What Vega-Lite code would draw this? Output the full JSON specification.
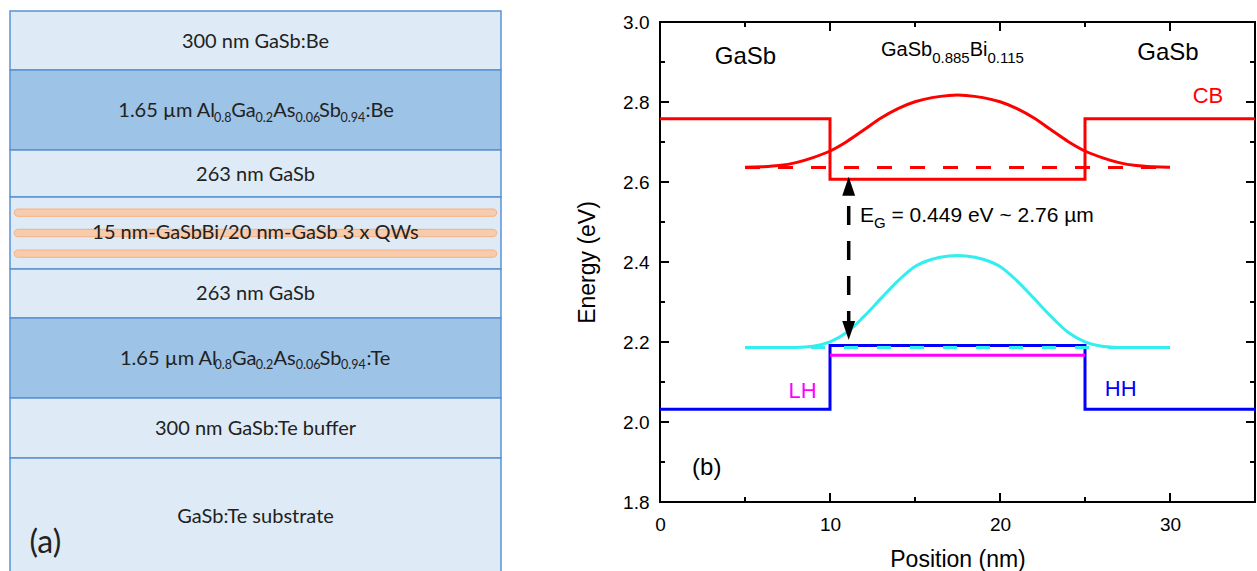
{
  "$schema": "https://vega.github.io/schema/vega-lite/v6.json",
  "background": "white",
  "padding": {"left": 9, "top": 10, "right": 0, "bottom": 0},
  "autosize": {"type": "pad"},
  "bounds": "flush",
  "spacing": 159,
  "config": {"view": {"stroke": null}, "font": "Liberation Sans"},
  "hconcat": [
    {
      "width": 491,
      "height": 549,
      "layer": [
        {
          "data": {"values": [
            {"layer": "300 nm GaSb:Be", "top": 11, "bottom": 70, "mat": "GaSb"},
            {"layer": "AlGaAsSb:Be cladding", "top": 70, "bottom": 150, "mat": "AlGaAsSb"},
            {"layer": "263 nm GaSb upper", "top": 150, "bottom": 197, "mat": "GaSb"},
            {"layer": "QWs", "top": 197, "bottom": 269, "mat": "GaSb"},
            {"layer": "263 nm GaSb lower", "top": 269, "bottom": 318, "mat": "GaSb"},
            {"layer": "AlGaAsSb:Te cladding", "top": 318, "bottom": 398, "mat": "AlGaAsSb"},
            {"layer": "buffer", "top": 398, "bottom": 458, "mat": "GaSb"},
            {"layer": "substrate", "top": 458, "bottom": 574, "mat": "GaSb"}
          ]},
          "mark": {"type": "rect", "stroke": "#5b93d2", "strokeWidth": 1.5},
          "encoding": {
            "x": {"datum": 0, "type": "quantitative", "scale": {"domain": [0, 491], "nice": false, "zero": false}, "axis": null},
            "x2": {"datum": 491},
            "y": {"field": "top", "type": "quantitative", "scale": {"domain": [22, 571], "nice": false, "zero": false, "reverse": true}, "axis": null},
            "y2": {"field": "bottom"},
            "fill": {"field": "mat", "type": "nominal", "scale": {"domain": ["GaSb", "AlGaAsSb"], "range": ["#deebf7", "#9dc3e6"]}, "legend": null}
          }
        },
        {
          "data": {"values": [
            {"well": 1, "top": 209, "bottom": 216.3},
            {"well": 2, "top": 229.3, "bottom": 236.7},
            {"well": 3, "top": 250, "bottom": 257.3}
          ]},
          "mark": {"type": "rect", "fill": "#f8cbad", "stroke": "#f4b183", "strokeWidth": 1, "cornerRadius": 3.5},
          "encoding": {
            "x": {"datum": 4.3, "type": "quantitative", "axis": null},
            "x2": {"datum": 486.7},
            "y": {"field": "top", "type": "quantitative", "axis": null},
            "y2": {"field": "bottom"}
          }
        },
        {
          "data": {"values": [
            {"t": "300 nm GaSb:Be", "x": 245.5, "y": 47.7},
            {"t": "263 nm GaSb", "x": 245.5, "y": 181},
            {"t": "15 nm-GaSbBi/20 nm-GaSb 3 x QWs", "x": 245.5, "y": 239},
            {"t": "263 nm GaSb", "x": 245.5, "y": 300},
            {"t": "300 nm GaSb:Te buffer", "x": 245.5, "y": 435},
            {"t": "GaSb:Te substrate", "x": 245.5, "y": 523.3}
          ]},
          "mark": {"type": "text", "font": "Lato", "fontSize": 20, "color": "#222222", "align": "center", "baseline": "alphabetic"},
          "encoding": {
            "x": {"field": "x", "type": "quantitative", "axis": null},
            "y": {"field": "y", "type": "quantitative", "axis": null},
            "text": {"field": "t"}
          }
        },
        {
          "data": {"values": [
            {"t": "1.65 µm Al", "x": 108.3, "y": 117.3},
            {"t": "Ga", "x": 221.2, "y": 117.3},
            {"t": "As", "x": 263.2, "y": 117.3},
            {"t": "Sb", "x": 309, "y": 117.3},
            {"t": ":Be", "x": 355.5, "y": 117.3},
            {"t": "1.65 µm Al", "x": 110, "y": 365},
            {"t": "Ga", "x": 222, "y": 365},
            {"t": "As", "x": 263.5, "y": 365},
            {"t": "Sb", "x": 309.5, "y": 365},
            {"t": ":Te", "x": 356.5, "y": 365}
          ]},
          "mark": {"type": "text", "font": "Lato", "fontSize": 20, "color": "#222222", "align": "left", "baseline": "alphabetic"},
          "encoding": {
            "x": {"field": "x", "type": "quantitative", "axis": null},
            "y": {"field": "y", "type": "quantitative", "axis": null},
            "text": {"field": "t"}
          }
        },
        {
          "data": {"values": [
            {"t": "0.8", "x": 204, "y": 121.7},
            {"t": "0.2", "x": 245.5, "y": 121.7},
            {"t": "0.06", "x": 285.5, "y": 121.7},
            {"t": "0.94", "x": 330.5, "y": 121.7},
            {"t": "0.8", "x": 204.5, "y": 369.3},
            {"t": "0.2", "x": 245.8, "y": 369.3},
            {"t": "0.06", "x": 285.8, "y": 369.3},
            {"t": "0.94", "x": 331, "y": 369.3}
          ]},
          "mark": {"type": "text", "font": "Lato", "fontSize": 12.5, "color": "#222222", "align": "left", "baseline": "alphabetic"},
          "encoding": {
            "x": {"field": "x", "type": "quantitative", "axis": null},
            "y": {"field": "y", "type": "quantitative", "axis": null},
            "text": {"field": "t"}
          }
        },
        {
          "data": {"values": [{"t": "(a)", "x": 35.3, "y": 553}]},
          "mark": {"type": "text", "font": "Lato", "fontSize": 32, "color": "#222222", "align": "center", "baseline": "alphabetic"},
          "encoding": {
            "x": {"field": "x", "type": "quantitative", "axis": null},
            "y": {"field": "y", "type": "quantitative", "axis": null},
            "text": {"field": "t"}
          }
        }
      ]
    },
    {
      "width": 595,
      "height": 480,
      "view": {"stroke": "black", "strokeWidth": 2},
      "encoding": {
        "x": {"field": "x", "type": "quantitative", "scale": {"domain": [0, 35], "nice": false, "zero": false},
          "axis": {"orient": "bottom", "values": [0, 10, 20, 30], "domain": false, "ticks": false,
            "labelFont": "Liberation Sans", "labelFontSize": 19, "labelColor": "black", "labelPadding": 13,
            "labelFlush": false, "labelOverlap": false, "grid": false,
            "title": "Position (nm)", "titleFont": "Liberation Sans", "titleFontSize": 23, "titleFontWeight": "normal", "titleColor": "black", "titlePadding": 14}},
        "y": {"field": "E", "type": "quantitative", "scale": {"domain": [1.8, 3.0], "nice": false, "zero": false},
          "axis": {"orient": "left", "values": [1.8, 2.0, 2.2, 2.4, 2.6, 2.8, 3.0], "format": ".1f", "domain": false, "ticks": false,
            "labelFont": "Liberation Sans", "labelFontSize": 19, "labelColor": "black", "labelPadding": 11,
            "labelFlush": false, "labelOverlap": false, "grid": false,
            "title": "Energy (eV)", "titleFont": "Liberation Sans", "titleFontSize": 23, "titleFontWeight": "normal", "titleColor": "black", "titlePadding": 23}}
      },
      "layer": [
        {
          "data": {"values": [
            {"x": 0, "E": 2.032}, {"x": 10, "E": 2.191}, {"x": 25, "E": 2.032}, {"x": 35, "E": 2.032}
          ]},
          "mark": {"type": "line", "interpolate": "step-after", "color": "#0000ff", "strokeWidth": 3},
          "encoding": {}
        },
        {
          "data": {"values": [
            {"x": 0, "E": 1.8, "kind": "major"}, {"x": 5, "E": 1.8, "kind": "minor"},
            {"x": 10, "E": 1.8, "kind": "major"}, {"x": 15, "E": 1.8, "kind": "minor"},
            {"x": 20, "E": 1.8, "kind": "major"}, {"x": 25, "E": 1.8, "kind": "minor"},
            {"x": 30, "E": 1.8, "kind": "major"}, {"x": 35, "E": 1.8, "kind": "minor"},
            {"x": 0, "E": 3.0, "kind": "major"}, {"x": 5, "E": 3.0, "kind": "minor"},
            {"x": 10, "E": 3.0, "kind": "major"}, {"x": 15, "E": 3.0, "kind": "minor"},
            {"x": 20, "E": 3.0, "kind": "major"}, {"x": 25, "E": 3.0, "kind": "minor"},
            {"x": 30, "E": 3.0, "kind": "major"}, {"x": 35, "E": 3.0, "kind": "minor"}
          ]},
          "mark": {"type": "tick", "orient": "vertical", "thickness": 2, "color": "black", "opacity": 1, "clip": true},
          "encoding": {
            "size": {"field": "kind", "type": "nominal", "scale": {"domain": ["major", "minor"], "range": [18, 10]}, "legend": null}
          }
        },
        {
          "data": {"values": [
            {"x": 0, "E": 1.8, "kind": "major"}, {"x": 0, "E": 1.9, "kind": "minor"}, {"x": 0, "E": 2.0, "kind": "major"},
            {"x": 0, "E": 2.1, "kind": "minor"}, {"x": 0, "E": 2.2, "kind": "major"}, {"x": 0, "E": 2.3, "kind": "minor"},
            {"x": 0, "E": 2.4, "kind": "major"}, {"x": 0, "E": 2.5, "kind": "minor"}, {"x": 0, "E": 2.6, "kind": "major"},
            {"x": 0, "E": 2.7, "kind": "minor"}, {"x": 0, "E": 2.8, "kind": "major"}, {"x": 0, "E": 2.9, "kind": "minor"},
            {"x": 0, "E": 3.0, "kind": "major"},
            {"x": 35, "E": 1.8, "kind": "major"}, {"x": 35, "E": 1.9, "kind": "minor"}, {"x": 35, "E": 2.0, "kind": "major"},
            {"x": 35, "E": 2.1, "kind": "minor"}, {"x": 35, "E": 2.2, "kind": "major"}, {"x": 35, "E": 2.3, "kind": "minor"},
            {"x": 35, "E": 2.4, "kind": "major"}, {"x": 35, "E": 2.5, "kind": "minor"}, {"x": 35, "E": 2.6, "kind": "major"},
            {"x": 35, "E": 2.7, "kind": "minor"}, {"x": 35, "E": 2.8, "kind": "major"}, {"x": 35, "E": 2.9, "kind": "minor"},
            {"x": 35, "E": 3.0, "kind": "major"}
          ]},
          "mark": {"type": "tick", "orient": "horizontal", "thickness": 2, "color": "black", "opacity": 1, "clip": true},
          "encoding": {
            "size": {"field": "kind", "type": "nominal", "scale": {"domain": ["major", "minor"], "range": [18, 10]}, "legend": null}
          }
        },
        {
          "data": {"values": [{"x": 10, "E": 2.167}, {"x": 25, "E": 2.167}]},
          "mark": {"type": "line", "color": "#ff00ff", "strokeWidth": 3},
          "encoding": {}
        },
        {
          "data": {"values": [{"x": 5, "E": 2.186}, {"x": 30, "E": 2.186}]},
          "mark": {"type": "line", "color": "#33eeee", "strokeWidth": 3, "strokeDash": [14, 19]},
          "encoding": {}
        },
        {
          "data": {"values": [
            {"x": 5, "E": 2.186}, {"x": 6, "E": 2.186}, {"x": 7, "E": 2.186}, {"x": 8, "E": 2.1865},
            {"x": 9, "E": 2.1895}, {"x": 10, "E": 2.2005}, {"x": 11, "E": 2.2245}, {"x": 12, "E": 2.264},
            {"x": 13, "E": 2.309}, {"x": 14, "E": 2.353}, {"x": 15, "E": 2.389}, {"x": 16, "E": 2.407},
            {"x": 17, "E": 2.415}, {"x": 17.5, "E": 2.416}, {"x": 18, "E": 2.415}, {"x": 19, "E": 2.407},
            {"x": 20, "E": 2.389}, {"x": 21, "E": 2.353}, {"x": 22, "E": 2.309}, {"x": 23, "E": 2.264},
            {"x": 24, "E": 2.2245}, {"x": 25, "E": 2.2005}, {"x": 26, "E": 2.1895}, {"x": 27, "E": 2.1865},
            {"x": 28, "E": 2.186}, {"x": 29, "E": 2.186}, {"x": 30, "E": 2.186}
          ]},
          "mark": {"type": "line", "color": "#33eeee", "strokeWidth": 3, "interpolate": "monotone"},
          "encoding": {}
        },
        {
          "data": {"values": [
            {"x": 0, "E": 2.758}, {"x": 10, "E": 2.607}, {"x": 25, "E": 2.758}, {"x": 35, "E": 2.758}
          ]},
          "mark": {"type": "line", "interpolate": "step-after", "color": "#ff0000", "strokeWidth": 3},
          "encoding": {}
        },
        {
          "data": {"values": [{"x": 5, "E": 2.636}, {"x": 30, "E": 2.636}]},
          "mark": {"type": "line", "color": "#ff0000", "strokeWidth": 3, "strokeDash": [15, 18]},
          "encoding": {}
        },
        {
          "data": {"values": [
            {"x": 5, "E": 2.637}, {"x": 6, "E": 2.638}, {"x": 7, "E": 2.641}, {"x": 8, "E": 2.6485},
            {"x": 9, "E": 2.661}, {"x": 10, "E": 2.6775}, {"x": 11, "E": 2.7015}, {"x": 12, "E": 2.7305},
            {"x": 13, "E": 2.760}, {"x": 14, "E": 2.7835}, {"x": 15, "E": 2.8005}, {"x": 16, "E": 2.811},
            {"x": 17, "E": 2.8165}, {"x": 17.5, "E": 2.8175}, {"x": 18, "E": 2.8165}, {"x": 19, "E": 2.811},
            {"x": 20, "E": 2.8005}, {"x": 21, "E": 2.7835}, {"x": 22, "E": 2.760}, {"x": 23, "E": 2.7305},
            {"x": 24, "E": 2.7015}, {"x": 25, "E": 2.6775}, {"x": 26, "E": 2.661}, {"x": 27, "E": 2.6485},
            {"x": 28, "E": 2.641}, {"x": 29, "E": 2.638}, {"x": 30, "E": 2.637}
          ]},
          "mark": {"type": "line", "color": "#ff0000", "strokeWidth": 3, "interpolate": "monotone"},
          "encoding": {}
        },
        {
          "data": {"values": [{"x": 11.1, "E": 2.54, "E2": 2.252}]},
          "mark": {"type": "rule", "color": "black", "strokeWidth": 3.5, "strokeDash": [19, 16]},
          "encoding": {
            "y2": {"field": "E2"}
          }
        },
        {
          "data": {"values": [{"x": 11.1, "E": 2.5895, "dir": "up"}, {"x": 11.1, "E": 2.2288, "dir": "down"}]},
          "mark": {"type": "point", "filled": true, "color": "black", "opacity": 1, "size": 361},
          "encoding": {
            "shape": {"field": "dir", "type": "nominal", "scale": {"domain": ["up", "down"], "range": ["M0,-1L0.68,1L-0.68,1Z", "M0,1L0.68,-1L-0.68,-1Z"]}, "legend": null}
          }
        },
        {
          "data": {"values": [
            {"t": "GaSb", "x": 5.03, "E": 2.895},
            {"t": "GaSb", "x": 29.88, "E": 2.905},
            {"t": "(b)", "x": 2.75, "E": 1.8675}
          ]},
          "mark": {"type": "text", "font": "Liberation Sans", "fontSize": 24, "color": "black", "align": "center", "baseline": "alphabetic"},
          "encoding": {
            "text": {"field": "t"}
          }
        },
        {
          "data": {"values": [
            {"t": "CB", "band": "CB", "x": 32.23, "E": 2.797},
            {"t": "LH", "band": "LH", "x": 8.39, "E": 2.06},
            {"t": "HH", "band": "HH", "x": 27.1, "E": 2.065}
          ]},
          "mark": {"type": "text", "font": "Liberation Sans", "fontSize": 22, "align": "center", "baseline": "alphabetic"},
          "encoding": {
            "text": {"field": "t"},
            "color": {"field": "band", "type": "nominal", "scale": {"domain": ["CB", "LH", "HH"], "range": ["#ff0000", "#ff00ff", "#0000ff"]}, "legend": null}
          }
        },
        {
          "data": {"values": [
            {"t": "GaSb", "x": 13.0, "E": 2.915},
            {"t": "Bi", "x": 18.216, "E": 2.915}
          ]},
          "mark": {"type": "text", "font": "Liberation Sans", "fontSize": 20, "color": "black", "align": "left", "baseline": "alphabetic"},
          "encoding": {
            "text": {"field": "t"}
          }
        },
        {
          "data": {"values": [
            {"t": "E", "x": 11.76, "E": 2.5008},
            {"t": "= 0.449 eV ~ 2.76 µm", "x": 13.614, "E": 2.5008}
          ]},
          "mark": {"type": "text", "font": "Liberation Sans", "fontSize": 21, "color": "black", "align": "left", "baseline": "alphabetic"},
          "encoding": {
            "text": {"field": "t"}
          }
        },
        {
          "data": {"values": [
            {"t": "0.885", "x": 16.008, "E": 2.8968},
            {"t": "0.115", "x": 19.262, "E": 2.8968},
            {"t": "G", "x": 12.584, "E": 2.4842}
          ]},
          "mark": {"type": "text", "font": "Liberation Sans", "fontSize": 15, "color": "black", "align": "left", "baseline": "alphabetic"},
          "encoding": {
            "text": {"field": "t"}
          }
        }
      ]
    }
  ]
}
